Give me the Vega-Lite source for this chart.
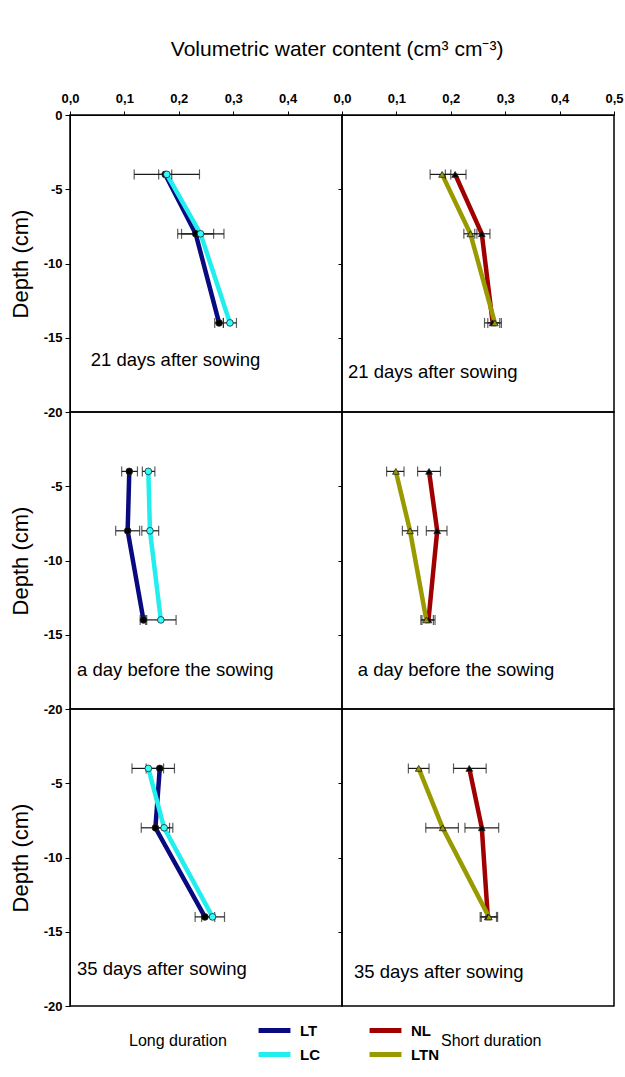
{
 "$schema": "https://vega.github.io/schema/vega-lite/v6.json",
 "padding": {"left": 8, "top": 39, "right": 6, "bottom": 5},
 "background": "white",
 "title": {"text": "Volumetric water content (cm³ cm⁻³)", "fontSize": 21, "fontWeight": "normal", "font": "Liberation Sans", "anchor": "middle", "offset": 31, "dx": 21, "color": "#000"},
 "datasets": {
  "d": [
   {"panel":"TL","series":"LT","depth":-4,"wc":0.175,"lo":0.163,"hi":0.187},
   {"panel":"TL","series":"LT","depth":-8,"wc":0.231,"lo":0.198,"hi":0.264},
   {"panel":"TL","series":"LT","depth":-14,"wc":0.274,"lo":0.266,"hi":0.282},
   {"panel":"TL","series":"LC","depth":-4,"wc":0.178,"lo":0.118,"hi":0.238},
   {"panel":"TL","series":"LC","depth":-8,"wc":0.240,"lo":0.205,"hi":0.283},
   {"panel":"TL","series":"LC","depth":-14,"wc":0.294,"lo":0.282,"hi":0.306},
   {"panel":"TR","series":"NL","depth":-4,"wc":0.208,"lo":0.190,"hi":0.228},
   {"panel":"TR","series":"NL","depth":-8,"wc":0.257,"lo":0.244,"hi":0.272},
   {"panel":"TR","series":"NL","depth":-14,"wc":0.277,"lo":0.262,"hi":0.290},
   {"panel":"TR","series":"LTN","depth":-4,"wc":0.184,"lo":0.162,"hi":0.200},
   {"panel":"TR","series":"LTN","depth":-8,"wc":0.236,"lo":0.224,"hi":0.248},
   {"panel":"TR","series":"LTN","depth":-14,"wc":0.281,"lo":0.268,"hi":0.293},
   {"panel":"ML","series":"LT","depth":-4,"wc":0.109,"lo":0.095,"hi":0.124},
   {"panel":"ML","series":"LT","depth":-8,"wc":0.106,"lo":0.084,"hi":0.128},
   {"panel":"ML","series":"LT","depth":-14,"wc":0.135,"lo":0.129,"hi":0.141},
   {"panel":"ML","series":"LC","depth":-4,"wc":0.144,"lo":0.133,"hi":0.156},
   {"panel":"ML","series":"LC","depth":-8,"wc":0.147,"lo":0.132,"hi":0.163},
   {"panel":"ML","series":"LC","depth":-14,"wc":0.167,"lo":0.139,"hi":0.195},
   {"panel":"MR","series":"NL","depth":-4,"wc":0.160,"lo":0.139,"hi":0.181},
   {"panel":"MR","series":"NL","depth":-8,"wc":0.175,"lo":0.155,"hi":0.193},
   {"panel":"MR","series":"NL","depth":-14,"wc":0.159,"lo":0.147,"hi":0.171},
   {"panel":"MR","series":"LTN","depth":-4,"wc":0.099,"lo":0.082,"hi":0.114},
   {"panel":"MR","series":"LTN","depth":-8,"wc":0.125,"lo":0.111,"hi":0.139},
   {"panel":"MR","series":"LTN","depth":-14,"wc":0.155,"lo":0.145,"hi":0.168},
   {"panel":"BL","series":"LT","depth":-4,"wc":0.165,"lo":0.140,"hi":0.192},
   {"panel":"BL","series":"LT","depth":-8,"wc":0.157,"lo":0.131,"hi":0.183},
   {"panel":"BL","series":"LT","depth":-14,"wc":0.248,"lo":0.230,"hi":0.266},
   {"panel":"BL","series":"LC","depth":-4,"wc":0.144,"lo":0.114,"hi":0.172},
   {"panel":"BL","series":"LC","depth":-8,"wc":0.173,"lo":0.160,"hi":0.189},
   {"panel":"BL","series":"LC","depth":-14,"wc":0.262,"lo":0.242,"hi":0.284},
   {"panel":"BR","series":"NL","depth":-4,"wc":0.234,"lo":0.205,"hi":0.265},
   {"panel":"BR","series":"NL","depth":-8,"wc":0.257,"lo":0.226,"hi":0.288},
   {"panel":"BR","series":"NL","depth":-14,"wc":0.268,"lo":0.254,"hi":0.284},
   {"panel":"BR","series":"LTN","depth":-4,"wc":0.141,"lo":0.122,"hi":0.160},
   {"panel":"BR","series":"LTN","depth":-8,"wc":0.185,"lo":0.154,"hi":0.214},
   {"panel":"BR","series":"LTN","depth":-14,"wc":0.270,"lo":0.256,"hi":0.286}
  ],
  "lab": [
   {"panel":"TL","label":"21 days after sowing","wc":0.038,"depth":-16.5},
   {"panel":"TR","label":"21 days after sowing","wc":0.011,"depth":-17.3},
   {"panel":"ML","label":"a day before the sowing","wc":0.013,"depth":-17.4},
   {"panel":"MR","label":"a day before the sowing","wc":0.029,"depth":-17.4},
   {"panel":"BL","label":"35 days after sowing","wc":0.013,"depth":-17.5},
   {"panel":"BR","label":"35 days after sowing","wc":0.022,"depth":-17.7}
  ]
 },
 "columns": 2,
 "spacing": 0,
 "bounds": "flush",
 "concat": [
   {"width": 272, "height": 297,
    "encoding": {
     "y": {"field":"depth","type":"quantitative","scale":{"domain":[-20,0],"nice":false},"axis":{"orient":"left","values":[0,-5,-10,-15,-20],"labelExpr":"datum.value == 0 ? '0' : '-' + abs(datum.value)","title":"Depth (cm)","tickSize":5,"labelPadding":3,"titlePadding":11}},
     "x": {"field":"wc","type":"quantitative","scale":{"domain":[0,0.5],"nice":false},"axis":{"orient":"top","values":[0,0.1,0.2,0.3,0.4],"labelExpr":"replace(format(datum.value,'.1f'),'.',',')","title":null,"tickSize":4,"labelPadding":6,"labelFlush":false}}
    },
    "layer": [
     {"data":{"name":"d"},"transform":[{"filter":"datum.panel==='TL'"}],"mark":{"type":"line","strokeWidth":4.5},"encoding":{"color":{"field":"series","type":"nominal","scale":{"domain":["LT","LC"],"range":["#0a0a80","#22eeee"]},"legend":{"title":"Long duration","titleOrient":"left","titlePadding":34,"orient":"none","legendX":59,"legendY":902,"direction":"vertical","symbolType":"M-1.45,0H1.45","symbolStrokeWidth":5,"symbolSize":484}},"order":{"field":"depth","type":"quantitative"}}},
     {"data":{"name":"d"},"transform":[{"filter":"datum.panel==='TL'"}],"mark":{"type":"rule","color":"#1a1a1a","strokeWidth":1.2},"encoding":{"x":{"field":"lo","type":"quantitative","axis":{"orient":"top","values":[0,0.1,0.2,0.3,0.4],"labelExpr":"replace(format(datum.value,'.1f'),'.',',')","title":null,"tickSize":4,"labelPadding":6,"labelFlush":false}},"x2":{"field":"hi"}}},
     {"data":{"name":"d"},"transform":[{"filter":"datum.panel==='TL'"}],"mark":{"type":"tick","orient":"vertical","color":"#1a1a1a","size":10,"thickness":1.2},"encoding":{"x":{"field":"lo","type":"quantitative","axis":{"orient":"top","values":[0,0.1,0.2,0.3,0.4],"labelExpr":"replace(format(datum.value,'.1f'),'.',',')","title":null,"tickSize":4,"labelPadding":6,"labelFlush":false}}}},
     {"data":{"name":"d"},"transform":[{"filter":"datum.panel==='TL'"}],"mark":{"type":"tick","orient":"vertical","color":"#1a1a1a","size":10,"thickness":1.2},"encoding":{"x":{"field":"hi","type":"quantitative","axis":{"orient":"top","values":[0,0.1,0.2,0.3,0.4],"labelExpr":"replace(format(datum.value,'.1f'),'.',',')","title":null,"tickSize":4,"labelPadding":6,"labelFlush":false}}}},
     {"data":{"name":"d"},"transform":[{"filter":"datum.panel==='TL'"}],"mark":{"type":"point","filled":true,"stroke":"#222","strokeWidth":0.8,"size":45,"opacity":1},"encoding":{"shape":{"field":"series","type":"nominal","scale":{"domain":["LT","LC","NL","LTN"],"range":["circle","circle","triangle-up","triangle-up"]},"legend":null},"fill":{"field":"series","type":"nominal","scale":{"domain":["LT","LC","NL","LTN"],"range":["#000000","#33ffff","#000000","#999900"]},"legend":null}}},
     {"data":{"name":"lab"},"transform":[{"filter":"datum.panel==='TL'"}],"mark":{"type":"text","align":"left","baseline":"middle","fontSize":18.5,"font":"Liberation Sans","color":"#000"},"encoding":{"text":{"field":"label"}}}
    ]},
   {"width": 272, "height": 297,
    "encoding": {
     "y": {"field":"depth","type":"quantitative","scale":{"domain":[-20,0],"nice":false},"axis":{"orient":"left","values":[-5,-10,-15],"labels":false,"domain":false,"title":null,"tickSize":4}},
     "x": {"field":"wc","type":"quantitative","scale":{"domain":[0,0.5],"nice":false},"axis":{"orient":"top","values":[0,0.1,0.2,0.3,0.4,0.5],"labelExpr":"replace(format(datum.value,'.1f'),'.',',')","title":null,"tickSize":4,"labelPadding":6,"labelFlush":false}}
    },
    "layer": [
     {"data":{"name":"d"},"transform":[{"filter":"datum.panel==='TR'"}],"mark":{"type":"line","strokeWidth":4.5},"encoding":{"stroke":{"field":"series","type":"nominal","scale":{"domain":["NL","LTN"],"range":["#a00000","#999900"]},"legend":{"title":"Short duration","titleOrient":"right","titlePadding":2,"orient":"none","legendX":302,"legendY":902,"direction":"vertical","symbolType":"M-1.45,0H1.45","symbolStrokeWidth":5,"symbolSize":484}},"order":{"field":"depth","type":"quantitative"}}},
     {"data":{"name":"d"},"transform":[{"filter":"datum.panel==='TR'"}],"mark":{"type":"rule","color":"#1a1a1a","strokeWidth":1.2},"encoding":{"x":{"field":"lo","type":"quantitative","axis":{"orient":"top","values":[0,0.1,0.2,0.3,0.4,0.5],"labelExpr":"replace(format(datum.value,'.1f'),'.',',')","title":null,"tickSize":4,"labelPadding":6,"labelFlush":false}},"x2":{"field":"hi"}}},
     {"data":{"name":"d"},"transform":[{"filter":"datum.panel==='TR'"}],"mark":{"type":"tick","orient":"vertical","color":"#1a1a1a","size":10,"thickness":1.2},"encoding":{"x":{"field":"lo","type":"quantitative","axis":{"orient":"top","values":[0,0.1,0.2,0.3,0.4,0.5],"labelExpr":"replace(format(datum.value,'.1f'),'.',',')","title":null,"tickSize":4,"labelPadding":6,"labelFlush":false}}}},
     {"data":{"name":"d"},"transform":[{"filter":"datum.panel==='TR'"}],"mark":{"type":"tick","orient":"vertical","color":"#1a1a1a","size":10,"thickness":1.2},"encoding":{"x":{"field":"hi","type":"quantitative","axis":{"orient":"top","values":[0,0.1,0.2,0.3,0.4,0.5],"labelExpr":"replace(format(datum.value,'.1f'),'.',',')","title":null,"tickSize":4,"labelPadding":6,"labelFlush":false}}}},
     {"data":{"name":"d"},"transform":[{"filter":"datum.panel==='TR'"}],"mark":{"type":"point","filled":true,"stroke":"#222","strokeWidth":0.8,"size":45,"opacity":1},"encoding":{"shape":{"field":"series","type":"nominal","scale":{"domain":["LT","LC","NL","LTN"],"range":["circle","circle","triangle-up","triangle-up"]},"legend":null},"fill":{"field":"series","type":"nominal","scale":{"domain":["LT","LC","NL","LTN"],"range":["#000000","#33ffff","#000000","#999900"]},"legend":null}}},
     {"data":{"name":"lab"},"transform":[{"filter":"datum.panel==='TR'"}],"mark":{"type":"text","align":"left","baseline":"middle","fontSize":18.5,"font":"Liberation Sans","color":"#000"},"encoding":{"text":{"field":"label"}}}
    ]},
   {"width": 272, "height": 297,
    "encoding": {
     "y": {"field":"depth","type":"quantitative","scale":{"domain":[-20,0],"nice":false},"axis":{"orient":"left","values":[-5,-10,-15,-20],"labelExpr":"datum.value == 0 ? '0' : '-' + abs(datum.value)","title":"Depth (cm)","tickSize":5,"labelPadding":3,"titlePadding":11}},
     "x": {"field":"wc","type":"quantitative","scale":{"domain":[0,0.5],"nice":false},"axis":null}
    },
    "layer": [
     {"data":{"name":"d"},"transform":[{"filter":"datum.panel==='ML'"}],"mark":{"type":"line","strokeWidth":4.5},"encoding":{"color":{"field":"series","type":"nominal","scale":{"domain":["LT","LC"],"range":["#0a0a80","#22eeee"]},"legend":{"title":"Long duration","titleOrient":"left","titlePadding":34,"orient":"none","legendX":59,"legendY":902,"direction":"vertical","symbolType":"M-1.45,0H1.45","symbolStrokeWidth":5,"symbolSize":484}},"order":{"field":"depth","type":"quantitative"}}},
     {"data":{"name":"d"},"transform":[{"filter":"datum.panel==='ML'"}],"mark":{"type":"rule","color":"#1a1a1a","strokeWidth":1.2},"encoding":{"x":{"field":"lo","type":"quantitative","axis":null},"x2":{"field":"hi"}}},
     {"data":{"name":"d"},"transform":[{"filter":"datum.panel==='ML'"}],"mark":{"type":"tick","orient":"vertical","color":"#1a1a1a","size":10,"thickness":1.2},"encoding":{"x":{"field":"lo","type":"quantitative","axis":null}}},
     {"data":{"name":"d"},"transform":[{"filter":"datum.panel==='ML'"}],"mark":{"type":"tick","orient":"vertical","color":"#1a1a1a","size":10,"thickness":1.2},"encoding":{"x":{"field":"hi","type":"quantitative","axis":null}}},
     {"data":{"name":"d"},"transform":[{"filter":"datum.panel==='ML'"}],"mark":{"type":"point","filled":true,"stroke":"#222","strokeWidth":0.8,"size":45,"opacity":1},"encoding":{"shape":{"field":"series","type":"nominal","scale":{"domain":["LT","LC","NL","LTN"],"range":["circle","circle","triangle-up","triangle-up"]},"legend":null},"fill":{"field":"series","type":"nominal","scale":{"domain":["LT","LC","NL","LTN"],"range":["#000000","#33ffff","#000000","#999900"]},"legend":null}}},
     {"data":{"name":"lab"},"transform":[{"filter":"datum.panel==='ML'"}],"mark":{"type":"text","align":"left","baseline":"middle","fontSize":18.5,"font":"Liberation Sans","color":"#000"},"encoding":{"text":{"field":"label"}}}
    ]},
   {"width": 272, "height": 297,
    "encoding": {
     "y": {"field":"depth","type":"quantitative","scale":{"domain":[-20,0],"nice":false},"axis":{"orient":"left","values":[-5,-10,-15],"labels":false,"domain":false,"title":null,"tickSize":4}},
     "x": {"field":"wc","type":"quantitative","scale":{"domain":[0,0.5],"nice":false},"axis":null}
    },
    "layer": [
     {"data":{"name":"d"},"transform":[{"filter":"datum.panel==='MR'"}],"mark":{"type":"line","strokeWidth":4.5},"encoding":{"stroke":{"field":"series","type":"nominal","scale":{"domain":["NL","LTN"],"range":["#a00000","#999900"]},"legend":{"title":"Short duration","titleOrient":"right","titlePadding":2,"orient":"none","legendX":302,"legendY":902,"direction":"vertical","symbolType":"M-1.45,0H1.45","symbolStrokeWidth":5,"symbolSize":484}},"order":{"field":"depth","type":"quantitative"}}},
     {"data":{"name":"d"},"transform":[{"filter":"datum.panel==='MR'"}],"mark":{"type":"rule","color":"#1a1a1a","strokeWidth":1.2},"encoding":{"x":{"field":"lo","type":"quantitative","axis":null},"x2":{"field":"hi"}}},
     {"data":{"name":"d"},"transform":[{"filter":"datum.panel==='MR'"}],"mark":{"type":"tick","orient":"vertical","color":"#1a1a1a","size":10,"thickness":1.2},"encoding":{"x":{"field":"lo","type":"quantitative","axis":null}}},
     {"data":{"name":"d"},"transform":[{"filter":"datum.panel==='MR'"}],"mark":{"type":"tick","orient":"vertical","color":"#1a1a1a","size":10,"thickness":1.2},"encoding":{"x":{"field":"hi","type":"quantitative","axis":null}}},
     {"data":{"name":"d"},"transform":[{"filter":"datum.panel==='MR'"}],"mark":{"type":"point","filled":true,"stroke":"#222","strokeWidth":0.8,"size":45,"opacity":1},"encoding":{"shape":{"field":"series","type":"nominal","scale":{"domain":["LT","LC","NL","LTN"],"range":["circle","circle","triangle-up","triangle-up"]},"legend":null},"fill":{"field":"series","type":"nominal","scale":{"domain":["LT","LC","NL","LTN"],"range":["#000000","#33ffff","#000000","#999900"]},"legend":null}}},
     {"data":{"name":"lab"},"transform":[{"filter":"datum.panel==='MR'"}],"mark":{"type":"text","align":"left","baseline":"middle","fontSize":18.5,"font":"Liberation Sans","color":"#000"},"encoding":{"text":{"field":"label"}}}
    ]},
   {"width": 272, "height": 297,
    "encoding": {
     "y": {"field":"depth","type":"quantitative","scale":{"domain":[-20,0],"nice":false},"axis":{"orient":"left","values":[-5,-10,-15,-20],"labelExpr":"datum.value == 0 ? '0' : '-' + abs(datum.value)","title":"Depth (cm)","tickSize":5,"labelPadding":3,"titlePadding":11}},
     "x": {"field":"wc","type":"quantitative","scale":{"domain":[0,0.5],"nice":false},"axis":null}
    },
    "layer": [
     {"data":{"name":"d"},"transform":[{"filter":"datum.panel==='BL'"}],"mark":{"type":"line","strokeWidth":4.5},"encoding":{"color":{"field":"series","type":"nominal","scale":{"domain":["LT","LC"],"range":["#0a0a80","#22eeee"]},"legend":{"title":"Long duration","titleOrient":"left","titlePadding":34,"orient":"none","legendX":59,"legendY":902,"direction":"vertical","symbolType":"M-1.45,0H1.45","symbolStrokeWidth":5,"symbolSize":484}},"order":{"field":"depth","type":"quantitative"}}},
     {"data":{"name":"d"},"transform":[{"filter":"datum.panel==='BL'"}],"mark":{"type":"rule","color":"#1a1a1a","strokeWidth":1.2},"encoding":{"x":{"field":"lo","type":"quantitative","axis":null},"x2":{"field":"hi"}}},
     {"data":{"name":"d"},"transform":[{"filter":"datum.panel==='BL'"}],"mark":{"type":"tick","orient":"vertical","color":"#1a1a1a","size":10,"thickness":1.2},"encoding":{"x":{"field":"lo","type":"quantitative","axis":null}}},
     {"data":{"name":"d"},"transform":[{"filter":"datum.panel==='BL'"}],"mark":{"type":"tick","orient":"vertical","color":"#1a1a1a","size":10,"thickness":1.2},"encoding":{"x":{"field":"hi","type":"quantitative","axis":null}}},
     {"data":{"name":"d"},"transform":[{"filter":"datum.panel==='BL'"}],"mark":{"type":"point","filled":true,"stroke":"#222","strokeWidth":0.8,"size":45,"opacity":1},"encoding":{"shape":{"field":"series","type":"nominal","scale":{"domain":["LT","LC","NL","LTN"],"range":["circle","circle","triangle-up","triangle-up"]},"legend":null},"fill":{"field":"series","type":"nominal","scale":{"domain":["LT","LC","NL","LTN"],"range":["#000000","#33ffff","#000000","#999900"]},"legend":null}}},
     {"data":{"name":"lab"},"transform":[{"filter":"datum.panel==='BL'"}],"mark":{"type":"text","align":"left","baseline":"middle","fontSize":18.5,"font":"Liberation Sans","color":"#000"},"encoding":{"text":{"field":"label"}}}
    ]},
   {"width": 272, "height": 297,
    "encoding": {
     "y": {"field":"depth","type":"quantitative","scale":{"domain":[-20,0],"nice":false},"axis":{"orient":"left","values":[-5,-10,-15],"labels":false,"domain":false,"title":null,"tickSize":4}},
     "x": {"field":"wc","type":"quantitative","scale":{"domain":[0,0.5],"nice":false},"axis":null}
    },
    "layer": [
     {"data":{"name":"d"},"transform":[{"filter":"datum.panel==='BR'"}],"mark":{"type":"line","strokeWidth":4.5},"encoding":{"stroke":{"field":"series","type":"nominal","scale":{"domain":["NL","LTN"],"range":["#a00000","#999900"]},"legend":{"title":"Short duration","titleOrient":"right","titlePadding":2,"orient":"none","legendX":302,"legendY":902,"direction":"vertical","symbolType":"M-1.45,0H1.45","symbolStrokeWidth":5,"symbolSize":484}},"order":{"field":"depth","type":"quantitative"}}},
     {"data":{"name":"d"},"transform":[{"filter":"datum.panel==='BR'"}],"mark":{"type":"rule","color":"#1a1a1a","strokeWidth":1.2},"encoding":{"x":{"field":"lo","type":"quantitative","axis":null},"x2":{"field":"hi"}}},
     {"data":{"name":"d"},"transform":[{"filter":"datum.panel==='BR'"}],"mark":{"type":"tick","orient":"vertical","color":"#1a1a1a","size":10,"thickness":1.2},"encoding":{"x":{"field":"lo","type":"quantitative","axis":null}}},
     {"data":{"name":"d"},"transform":[{"filter":"datum.panel==='BR'"}],"mark":{"type":"tick","orient":"vertical","color":"#1a1a1a","size":10,"thickness":1.2},"encoding":{"x":{"field":"hi","type":"quantitative","axis":null}}},
     {"data":{"name":"d"},"transform":[{"filter":"datum.panel==='BR'"}],"mark":{"type":"point","filled":true,"stroke":"#222","strokeWidth":0.8,"size":45,"opacity":1},"encoding":{"shape":{"field":"series","type":"nominal","scale":{"domain":["LT","LC","NL","LTN"],"range":["circle","circle","triangle-up","triangle-up"]},"legend":null},"fill":{"field":"series","type":"nominal","scale":{"domain":["LT","LC","NL","LTN"],"range":["#000000","#33ffff","#000000","#999900"]},"legend":null}}},
     {"data":{"name":"lab"},"transform":[{"filter":"datum.panel==='BR'"}],"mark":{"type":"text","align":"left","baseline":"middle","fontSize":18.5,"font":"Liberation Sans","color":"#000"},"encoding":{"text":{"field":"label"}}}
    ]}
 ],
 "config": {
  "view": {"stroke": "#000", "strokeWidth": 1.5},
  "axis": {"domainColor": "#000", "tickColor": "#000", "labelFont": "Liberation Sans", "labelFontWeight": "bold", "labelFontSize": 13, "labelColor": "#000", "titleFont": "Liberation Sans", "titleFontWeight": "normal", "titleFontSize": 22, "titleColor": "#000", "grid": false},
  "legend": {"labelFont": "Liberation Sans", "labelFontWeight": "bold", "labelFontSize": 15, "labelColor": "#000", "labelOffset": 12, "titleFont": "Liberation Sans", "titleFontWeight": "normal", "titleFontSize": 16, "titleColor": "#000", "rowPadding": 0}
 }
}
